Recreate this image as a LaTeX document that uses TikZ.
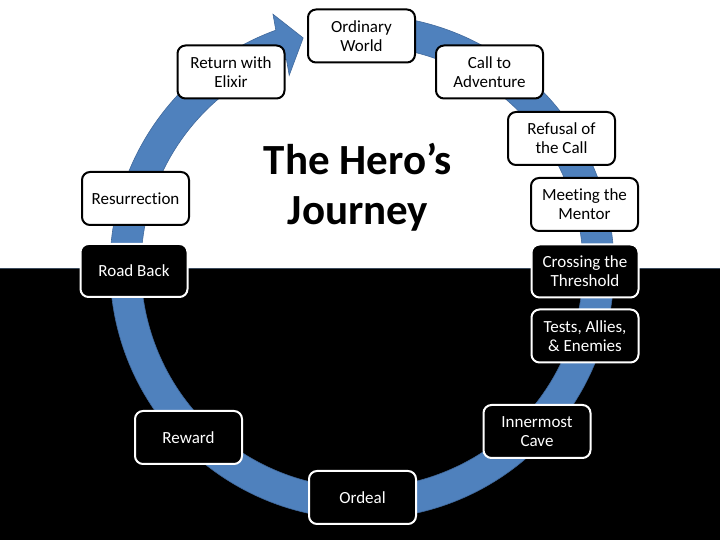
\documentclass[tikz,border=0pt]{standalone}
\usepackage{fontspec}
\setmainfont{Carlito}[Ligatures={NoCommon}]
\definecolor{ringblue}{HTML}{4F81BD}
\definecolor{ringedge}{HTML}{41699C}
\definecolor{sepline}{HTML}{3B4A5C}
\tikzset{
  stage/.style={rounded corners=8pt, minimum width=107pt, minimum height=53pt,
    line width=2pt, align=center, inner sep=1pt,
    font=\fontsize{17}{19}\selectfont},
  light/.style={stage, draw=black, fill=white, text=black},
  dark/.style={stage, draw=white, fill=black, text=white},
}
\begin{document}
\begin{tikzpicture}[x=1pt,y=1pt]
\useasboundingbox (0,0) rectangle (720,540);
\fill[white] (0,0) rectangle (720,540);
\fill[black] (0,0) rectangle (720,271);
\draw[sepline, line width=1.2pt] (0,271.6) -- (720,271.6);
% ring arrow
\begin{scope}[shift={(362,273)}]
\fill[ringblue, draw=ringedge, line width=0.6pt]
  (96:252) arc[start angle=96, end angle=-250, radius=252]
  -- (109.4:268) -- (104.4:236.5) -- (110.8:205) -- (110:221)
  arc[start angle=-250, end angle=96, radius=221] -- cycle;
\end{scope}
% title
\node[inner sep=0pt, align=center, font=\fontsize{43}{50}\selectfont\bfseries] (title) at (358,353) {The Hero’s\\Journey};
% stages
\node[light] (ow) at (361.5,504) {Ordinary\\World};
\node[light] (ca) at (489.5,468) {Call to\\Adventure};
\node[light] (rc) at (561.5,401.5) {Refusal of\\the Call};
\node[light] (mm) at (584.5,335.5) {Meeting the\\Mentor};
\node[dark] (ct) at (585,269) {Crossing the\\Threshold};
\node[dark] (ta) at (585,204) {Tests, Allies,\\\& Enemies};
\node[dark] (ic) at (537,108.5) {Innermost\\Cave};
\node[dark] (od) at (362.5,42.5) {Ordeal};
\node[dark] (rw) at (188.5,102.5) {Reward};
\node[dark] (rb) at (134,269.5) {Road Back};
\node[light] (rs) at (135.5,341.5) {Resurrection};
\node[light] (re) at (231,468) {Return with\\Elixir};
\end{tikzpicture}
\end{document}
